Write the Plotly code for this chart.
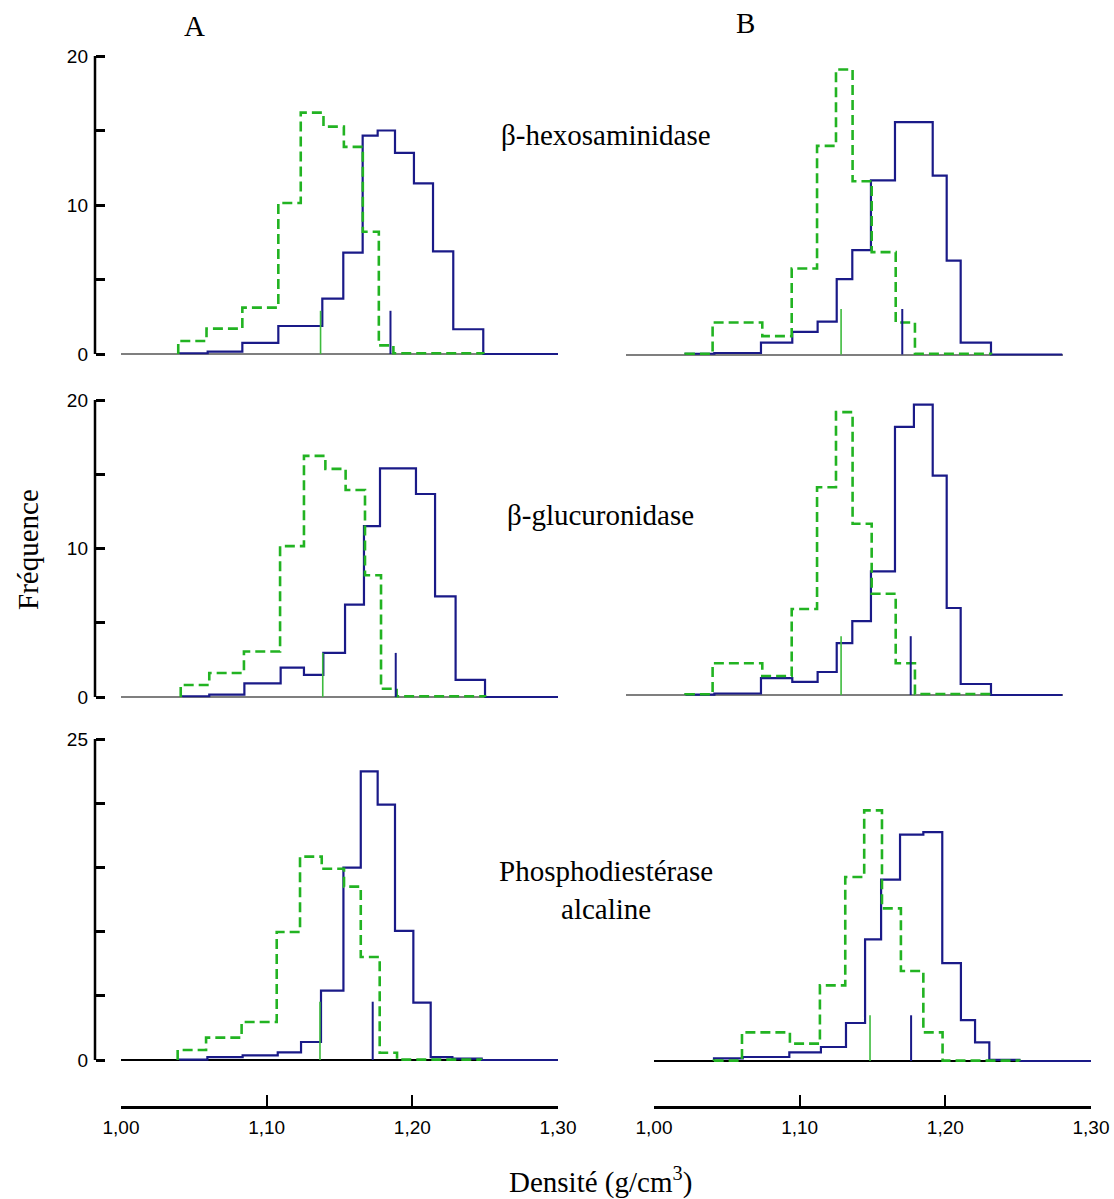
import plotly.graph_objects as go

# ---------------- data ----------------
# Panel A1 : beta-hexosaminidase, column A
a1_blue_edges = [1.0405, 1.0595, 1.0833, 1.108, 1.1245, 1.1382, 1.1526, 1.1659, 1.1762, 1.1881, 1.2011, 1.2142, 1.2281, 1.2487]
a1_blue_vals = [0.05, 0.16, 0.74, 1.88, 1.88, 3.71, 6.8, 14.65, 15.0, 13.5, 11.45, 6.89, 1.66]
a1_green_edges = [1.0393, 1.0587, 1.0833, 1.108, 1.1234, 1.139, 1.153, 1.166, 1.177, 1.187, 1.2487]
a1_green_vals = [0.87, 1.70, 3.11, 10.13, 16.2, 15.26, 13.9, 8.2, 0.58, 0.05]
a1_medians = [1.137, 1.185]          # green, blue
a1_median_h = 2.9

# Panel B1 : beta-hexosaminidase, column B
b1_blue_edges = [1.0413, 1.061, 1.093, 1.1145, 1.1319, 1.145, 1.1557, 1.1685, 1.185, 1.198, 1.2109, 1.2205, 1.2301, 1.2509]
b1_blue_vals = [0.05, 0.1, 0.8, 1.52, 2.21, 5.06, 7.0, 11.68, 15.6, 15.6, 12.0, 6.3, 0.8]
b1_green_edges = [1.0413, 1.0598, 1.0939, 1.1141, 1.1315, 1.1445, 1.1559, 1.169, 1.1855, 1.1987, 1.2509]
b1_green_vals = [0.05, 2.15, 1.23, 5.77, 14.0, 19.13, 11.63, 6.87, 2.15, 0.05]
b1_medians = [1.148, 1.190]
b1_median_h = 3.06

# Panel A2 : beta-glucuronidase, column A
a2_blue_edges = [1.0423, 1.0606, 1.0847, 1.1096, 1.1256, 1.1389, 1.1538, 1.1668, 1.1778, 1.1897, 1.2025, 1.2156, 1.2297, 1.2499]
a2_blue_vals = [0.05, 0.16, 0.92, 1.98, 1.49, 2.97, 6.22, 11.5, 15.4, 15.4, 13.67, 6.78, 1.15]
a2_green_edges = [1.041, 1.0606, 1.0844, 1.1092, 1.1256, 1.1403, 1.1542, 1.1675, 1.1785, 1.1892, 1.2499]
a2_green_vals = [0.81, 1.62, 3.06, 10.16, 16.24, 15.36, 13.94, 8.2, 0.56, 0.05]
a2_medians = [1.1385, 1.1886]
a2_median_h = 2.97

# Panel B2 : beta-glucuronidase, column B
b2_blue_edges = [1.0413, 1.061, 1.093, 1.1145, 1.1319, 1.145, 1.1557, 1.1685, 1.185, 1.198, 1.2109, 1.2205, 1.2301, 1.2509]
b2_blue_vals = [0.03, 0.1, 1.13, 0.88, 1.55, 3.49, 4.98, 8.33, 18.06, 19.55, 14.77, 5.86, 0.74]
b2_green_edges = [1.0413, 1.0598, 1.0939, 1.1141, 1.1315, 1.1445, 1.1559, 1.169, 1.1855, 1.1987, 1.2509]
b2_green_vals = [0.05, 2.14, 1.28, 5.79, 13.99, 19.05, 11.53, 6.82, 2.14, 0.07]
b2_medians = [1.148, 1.1958]
b2_median_h = 3.96

# Panel A3 : phosphodiesterase alcaline, column A
a3_blue_edges = [1.04, 1.0593, 1.0835, 1.1076, 1.1236, 1.1373, 1.1527, 1.1646, 1.1762, 1.1881, 1.2007, 1.2126, 1.2275, 1.2476]
a3_blue_vals = [0.03, 0.23, 0.36, 0.6, 1.4, 5.4, 14.98, 22.48, 19.89, 10.05, 4.47, 0.23, 0.1]
a3_green_edges = [1.0389, 1.0584, 1.0828, 1.1069, 1.1229, 1.1378, 1.1531, 1.1646, 1.1776, 1.1895, 1.2471]
a3_green_vals = [0.78, 1.74, 2.96, 9.97, 15.84, 14.9, 13.5, 8.02, 0.57, 0.03]
a3_medians = [1.1366, 1.1728]
a3_median_h = 4.54

# Panel B3 : phosphodiesterase alcaline, column B
b3_blue_edges = [1.0412, 1.0609, 1.0929, 1.1146, 1.1318, 1.1449, 1.1559, 1.1689, 1.1849, 1.1979, 1.2107, 1.2204, 1.2302, 1.2508]
b3_blue_vals = [0.21, 0.31, 0.67, 1.09, 2.96, 9.48, 14.12, 17.63, 17.83, 7.63, 3.19, 1.45, 0.08]
b3_green_edges = [1.0412, 1.0604, 1.0933, 1.1139, 1.1313, 1.1443, 1.1565, 1.1695, 1.1849, 1.1981, 1.2508]
b3_green_vals = [0.03, 2.23, 1.35, 5.89, 14.33, 19.52, 11.89, 7.01, 2.23, 0.03]
b3_medians = [1.1483, 1.1765]
b3_median_h = 3.56

x_tick_vals = [1.0, 1.1, 1.2, 1.3]
x_tick_text = ["1,00", "1,10", "1,20", "1,30"]
y_major_12 = [0, 10, 20]
y_minor_12 = [5, 15]
y_major_3 = [0, 25]
y_minor_3 = [5, 10, 15, 20]
enzymes = ["β-hexosaminidase", "β-glucuronidase", "Phosphodiestérase<br>alcaline"]
x_range = [1.0, 1.3]

# ---------------- geometry ----------------
W, H = 1114, 1199
BLUE = "#1a1a88"
GREEN = "#22b322"
GREEN_MED = "#3dbb3d"
SERIF = "Liberation Serif, Times New Roman, serif"
SANS = "Liberation Sans, Arial, sans-serif"


def px_x(p):
    return p / W


def px_y(p):
    return 1 - p / H


def xdom(p0, p1):
    return [px_x(p0), px_x(p1)]


def ydom(zero_px, ppu, ymin, ymax):
    bottom = zero_px - ymin * ppu
    top = zero_px - ymax * ppu
    return [px_y(bottom), px_y(top)]


def step_path(edges, vals, tail=None):
    xs, ys = [edges[0]], [0]
    for i, v in enumerate(vals):
        xs += [edges[i], edges[i + 1]]
        ys += [v, v]
    xs.append(edges[-1])
    ys.append(0)
    if tail is not None:
        xs.append(tail)
        ys.append(0)
    return xs, ys


panels = [
    ("", a1_blue_edges, a1_blue_vals, a1_green_edges, a1_green_vals, a1_medians, a1_median_h, (121, 558), 354, 14.9, [-0.6, 21], True, 1),
    ("2", b1_blue_edges, b1_blue_vals, b1_green_edges, b1_green_vals, b1_medians, b1_median_h, (625.5, 1062.5), 354.5, 14.9, [-0.6, 21], False, 1),
    ("3", a2_blue_edges, a2_blue_vals, a2_green_edges, a2_green_vals, a2_medians, a2_median_h, (121, 558), 697, 14.85, [-0.6, 21], True, 2),
    ("4", b2_blue_edges, b2_blue_vals, b2_green_edges, b2_green_vals, b2_medians, b2_median_h, (625.5, 1062.5), 695, 14.85, [-0.6, 21], False, 2),
    ("5", a3_blue_edges, a3_blue_vals, a3_green_edges, a3_green_vals, a3_medians, a3_median_h, (121, 558), 1060, 12.84, [-0.6, 26], True, 3),
    ("6", b3_blue_edges, b3_blue_vals, b3_green_edges, b3_green_vals, b3_medians, b3_median_h, (654, 1091), 1061, 12.84, [-0.6, 26], False, 3),
]

fig = go.Figure()
layout = {}
shapes = []

for (nm, be, bv, ge, gv, med, mh, xpx, zpx, ppu, yr, left, row) in panels:
    xa, ya = "x" + nm, "y" + nm
    bx, by = step_path(be, bv, tail=x_range[1])
    gx, gy = step_path(ge, gv)
    fig.add_trace(go.Scatter(x=bx, y=by, mode="lines", xaxis=xa, yaxis=ya,
                             line=dict(color=BLUE, width=2.2), showlegend=False, hoverinfo="skip"))
    fig.add_trace(go.Scatter(x=gx, y=gy, mode="lines", xaxis=xa, yaxis=ya,
                             line=dict(color=GREEN, width=2.6, dash="10px,5px"), showlegend=False, hoverinfo="skip"))
    fig.add_trace(go.Scatter(x=[med[0], med[0]], y=[0, mh], mode="lines", xaxis=xa, yaxis=ya,
                             line=dict(color=GREEN_MED, width=1.6), showlegend=False, hoverinfo="skip"))
    fig.add_trace(go.Scatter(x=[med[1], med[1]], y=[0, mh], mode="lines", xaxis=xa, yaxis=ya,
                             line=dict(color=BLUE, width=2.0), showlegend=False, hoverinfo="skip"))

    xkey = "xaxis" + nm
    ykey = "yaxis" + nm
    if row == 3:
        layout[xkey] = dict(domain=xdom(*xpx), range=x_range, anchor="free", position=px_y(1106.5),
                            showline=True, linewidth=2.5, linecolor="black", ticks="inside", ticklen=11,
                            tickwidth=2, tickcolor="black", tickvals=x_tick_vals, ticktext=x_tick_text,
                            ticklabelstandoff=3,
                            tickfont=dict(family=SANS, size=19, color="black"), showgrid=False, zeroline=False)
    else:
        layout[xkey] = dict(domain=xdom(*xpx), range=x_range, anchor=ya, visible=False,
                            showgrid=False, zeroline=False)
    base_color = "black" if row == 3 else "#7f7f7f"
    ycfg = dict(domain=ydom(zpx, ppu, yr[0], yr[1]), range=yr, showgrid=False, zeroline=True,
                zerolinecolor=base_color, zerolinewidth=2, showline=False)
    if left:
        major = y_major_3 if row == 3 else y_major_12
        minor = y_minor_3 if row == 3 else y_minor_12
        ycfg.update(anchor="free", position=px_x(95), ticks="inside", ticklen=9, tickwidth=2.5,
                    tickcolor="black", tickvals=major, ticktext=[str(v) for v in major],
                    ticklabelstandoff=7,
                    minor=dict(tickvals=minor, ticks="inside", ticklen=9, tickwidth=2.5, tickcolor="black"),
                    tickfont=dict(family=SANS, size=19, color="black"))
        shapes.append(dict(type="line", xref="paper", yref=ya, x0=px_x(95), x1=px_x(95), y0=0, y1=major[-1],
                           line=dict(color="black", width=2.5)))
    else:
        ycfg.update(anchor=xa, showticklabels=False, ticks="")
    layout[ykey] = ycfg

annotations = [
    dict(text="A", x=px_x(194), y=px_y(26)),
    dict(text="B", x=px_x(745), y=px_y(23)),
    dict(text=enzymes[0], x=px_x(606), y=px_y(135)),
    dict(text=enzymes[1], x=px_x(600), y=px_y(515)),
    dict(text=enzymes[2], x=px_x(606), y=px_y(890)),
    dict(text="Densité (g/cm<sup>3</sup>)", x=px_x(600), y=px_y(1180)),
    dict(text="Fréquence", x=px_x(28), y=px_y(550), textangle=-90),
]
for a in annotations:
    a.update(xref="paper", yref="paper", showarrow=False, xanchor="center", yanchor="middle",
             font=dict(family=SERIF, size=29, color="black"))

fig.update_layout(
    width=W, height=H,
    margin=dict(l=0, r=0, t=0, b=0, autoexpand=False),
    paper_bgcolor="white",
    plot_bgcolor="rgba(0,0,0,0)",
    showlegend=False,
    shapes=shapes,
    annotations=annotations,
    **layout,
)

fig.write_html(
    "out.html",
    config={"displayModeBar": False},
    post_script="document.body.style.margin='0';document.body.style.overflow='hidden';",
)
